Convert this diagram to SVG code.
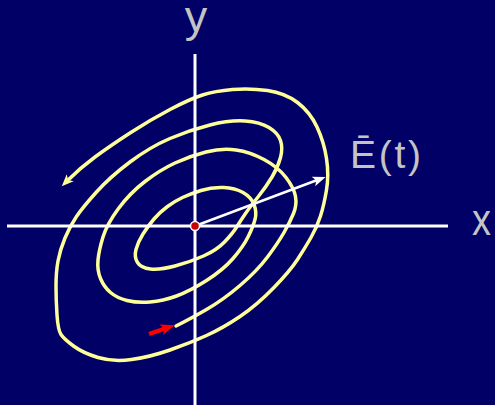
<svg xmlns="http://www.w3.org/2000/svg" width="495" height="405" viewBox="0 0 495 405">
<style>
.axis{stroke:#FFFFFF;stroke-width:3;fill:none}
.spiral{stroke:#FFFF99;stroke-width:3.5;fill:none;stroke-linecap:round;stroke-linejoin:round}
.vec{stroke:#FFFFFF;stroke-width:2.5;fill:none}
.lbl{font-family:"Liberation Sans",Arial,sans-serif;fill:#C4C4C4}
</style>
<defs>
<marker id="ahY" viewBox="-7 -6 14 12" markerWidth="14" markerHeight="12" refX="0" refY="0" orient="auto" markerUnits="userSpaceOnUse">
<path d="M6,0 L-6,-5 L-3,0 L-6,5 Z" fill="#FFFF99"/>
</marker>
<marker id="ahW" viewBox="-8 -6 15 12" markerWidth="15" markerHeight="12" refX="0" refY="0" orient="auto" markerUnits="userSpaceOnUse">
<path d="M6,0 L-7,-5 L-4,0 L-7,5 Z" fill="#FFFFFF"/>
</marker>
<marker id="ahR" viewBox="-8 -7 16 14" markerWidth="16" markerHeight="14" refX="0" refY="0" orient="auto" markerUnits="userSpaceOnUse">
<path d="M7,0 L-7,-5.5 L-4,0 L-7,5.5 Z" fill="#FF0000"/>
</marker>
</defs>
<rect width="495" height="405" fill="#000066"/>
<g id="spiral">
<path class="spiral" marker-end="url(#ahY)" d="M176,326 Q190,319 206.5,309.5 Q223,300 240,285.5 Q257,271 267.5,257 Q278,243 284,232.5 Q290,222 293.5,213.5 Q297,205 295.5,196.5 Q294,188 286,177.5 Q278,167 264,159.5 Q250,152 236,150 Q222,148 206,152 Q190,156 175,163 Q160,170 145,181.5 Q130,193 118.5,208.5 Q107,224 103,237 Q99,250 98,260 Q97,270 100.5,278.5 Q104,287 110.5,292.5 Q117,298 127,300.5 Q137,303 150,302 Q163,301 176.5,296 Q190,291 206.5,280.5 Q223,270 233,258.5 Q243,247 248,237 Q253,227 255,219.5 Q257,212 254,204.5 Q251,197 243,192.5 Q235,188 223.5,187.5 Q212,187 201,190.5 Q190,194 182.5,197.5 Q175,201 167.5,206.5 Q160,212 154,219 Q148,226 143,234 Q138,242 136,249.5 Q134,257 137.5,262.5 Q141,268 150.5,269 Q160,270 175,266 Q190,262 203.5,256 Q217,250 225,241.5 Q233,233 237,226.5 Q241,220 245.5,213.5 Q250,207 258,197 Q266,187 272,177 Q278,167 280.5,157.5 Q283,148 280.5,140.5 Q278,133 269,127.5 Q260,122 245,121 Q230,120 210,125 Q190,130 170,138.5 Q150,147 130,162 Q110,177 96.5,192 Q83,207 76.5,216.5 Q70,226 65,238 Q60,250 58,261 Q56,272 56,286 Q56,300 57,315 Q58,330 61,334.5 Q64,339 73.5,346 Q83,353 98,357.5 Q113,362 131.5,359.5 Q150,357 170,350 Q190,343 206.5,335.5 Q223,328 240,316.5 Q257,305 273.5,288 Q290,271 297.5,259.5 Q305,248 311,237.5 Q317,227 320.5,216 Q324,205 326.5,190 Q329,175 326.5,158.5 Q324,142 317,127 Q310,112 297.5,102.5 Q285,93 267.5,90.5 Q250,88 232.5,89.5 Q215,91 202.5,95 Q190,99 170,109.5 Q150,120 130,133 Q110,146 95,157 Q80,168 66,182"/>
</g>
<g id="axes">
<line class="axis" x1="7" y1="226" x2="448" y2="226"/>
<line class="axis" x1="195" y1="54" x2="195" y2="405"/>
</g>
<g id="connectors">
<line class="vec" marker-end="url(#ahW)" x1="195" y1="226" x2="320" y2="179"/>
<line stroke="#FF0000" stroke-width="4" x1="149" y1="334" x2="168" y2="327.5" marker-end="url(#ahR)"/>
</g>
<g id="origin">
<circle cx="195" cy="226" r="4.5" fill="#CC0000" stroke="#FFFFFF" stroke-width="1.5"/>
</g>
<g id="labels">
<text class="lbl" x="196" y="32" font-size="45" text-anchor="middle">y</text>
<text class="lbl" x="472" y="235" font-size="44" textLength="19" lengthAdjust="spacingAndGlyphs">x</text>
<text class="lbl" x="350" y="168" font-size="39" textLength="71" lengthAdjust="spacing">Ē(t)</text>
</g>
</svg>
